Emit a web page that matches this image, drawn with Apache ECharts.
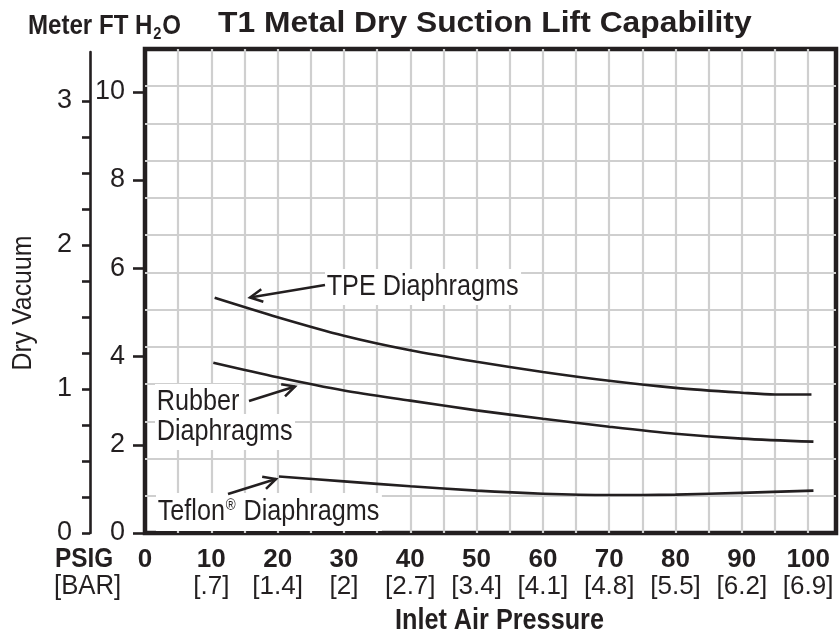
<!DOCTYPE html>
<html>
<head>
<meta charset="utf-8">
<script src="https://cdn.jsdelivr.net/npm/echarts@6/dist/echarts.min.js"></script>
<style>
html,body{margin:0;padding:0;background:#fff;}
#chart{width:840px;height:637px;}
</style>
</head>
<body>
<div id="chart"></div>
<script>
// ---- data ----
var tpePsi = [10.5, 20, 30, 40, 50, 60, 70, 80, 90, 95, 100.5];
var tpeFt  = [5.33, 4.89, 4.47, 4.14, 3.88, 3.65, 3.45, 3.29, 3.18, 3.14, 3.14];
var rubberPsi = [10.3, 20, 30, 40, 50, 60, 70, 80, 90, 100.8];
var rubberFt  = [3.86, 3.53, 3.23, 3.00, 2.78, 2.59, 2.41, 2.25, 2.14, 2.07];
var teflonPsi = [20.2, 30, 40, 50, 60, 70, 80, 90, 100.8];
var teflonFt  = [1.28, 1.17, 1.06, 0.96, 0.89, 0.86, 0.87, 0.91, 0.96];
var psigTicks = [0, 10, 20, 30, 40, 50, 60, 70, 80, 90, 100];
var barTicks  = ['', '[.7]', '[1.4]', '[2]', '[2.7]', '[3.4]', '[4.1]', '[4.8]', '[5.5]', '[6.2]', '[6.9]'];
var ftTicks = [0, 2, 4, 6, 8, 10];
var meterLabelTicks = [0, 1, 2, 3];
var meterMinorTicks = [0, 0.25, 0.5, 0.75, 1, 1.25, 1.5, 1.75, 2, 2.25, 2.5, 2.75, 3];

var SANS = '"Liberation Sans", Arial, Helvetica, sans-serif';
var INK = '#231f20';

function zip(xs, ys) { return xs.map(function (x, i) { return [x, ys[i]]; }); }

function arrow(tail, tip) {
  var dx = tail[0] - tip[0], dy = tail[1] - tip[1];
  var len = Math.sqrt(dx * dx + dy * dy);
  var ux = dx / len, uy = dy / len;
  var a = 27 * Math.PI / 180, L = 14;
  function rot(s) {
    var c = Math.cos(s * a), sn = Math.sin(s * a);
    return [tip[0] + L * (ux * c - uy * sn), tip[1] + L * (ux * sn + uy * c)];
  }
  return [
    { type: 'line', z: 20, shape: { x1: tail[0], y1: tail[1], x2: tip[0], y2: tip[1] }, style: { stroke: INK, lineWidth: 2.5 } },
    { type: 'polyline', z: 20, shape: { points: [rot(1), tip, rot(-1)] }, style: { stroke: INK, lineWidth: 2.5, fill: null } }
  ];
}

function txt(x, y, text, size, scaleX, extra) {
  var st = { x: 0, y: 0, text: text, fill: INK, fontFamily: SANS, fontSize: size, align: 'left', verticalAlign: 'middle' };
  if (extra) for (var k in extra) st[k] = extra[k];
  return { type: 'text', z: 15, x: x, y: y, scaleX: scaleX, style: st };
}

function label(x, y, text, extra) {
  var e = { backgroundColor: '#fff', padding: [3, 3, 3, 2] };
  if (extra) for (var k in extra) e[k] = extra[k];
  return txt(x, y, text, 30, 0.84, e);
}

var chart = echarts.init(document.getElementById('chart'), null, { renderer: 'canvas' });

var lineStyle = { color: INK, width: 2.6 };

var graphics = [
  txt(28, 24, '{m|Meter FT H}{sub|2}{m|O}', 28, 0.86, { fontWeight: 'bold',
      rich: {
        m: { fontFamily: SANS, fontWeight: 'bold', fontSize: 28, fill: INK, lineHeight: 32, verticalAlign: 'bottom' },
        sub: { fontFamily: SANS, fontWeight: 'bold', fontSize: 17, fill: INK, lineHeight: 17, verticalAlign: 'bottom', padding: [0, 1, -3, 1] }
      } }),
  txt(218, 24, 'T1 Metal Dry Suction Lift Capability', 30, 1.06, { fontWeight: 'bold' }),
  { type: 'text', z: 10, rotation: Math.PI / 2, x: 24, y: 303, scaleX: 0.92,
    style: { x: 0, y: 0, text: 'Dry Vacuum', fill: INK, fontFamily: SANS, fontSize: 27, align: 'center', verticalAlign: 'middle' } },
  txt(55, 559, 'PSIG', 28, 0.87, { fontWeight: 'bold' }),
  txt(54, 586, '[BAR]', 28, 0.92),
  txt(395, 621, 'Inlet Air Pressure', 29, 0.87, { fontWeight: 'bold' }),
  label(325, 287, 'TPE Diaphragms'),
  label(155, 402, 'Rubber'),
  label(155, 432, 'Diaphragms'),
  label(156, 512, '{t|Teflon}{sup|®}{t| Diaphragms}', { rich: {
      t: { fontFamily: SANS, fontSize: 30, fill: INK, lineHeight: 32, verticalAlign: 'middle' },
      sup: { fontFamily: SANS, fontSize: 16, fill: INK, lineHeight: 32, verticalAlign: 'top', padding: [2, 1, 0, 1] } } })
].concat(arrow([325, 285], [250, 297.5]))
 .concat(arrow([249, 401], [295, 386.5]))
 .concat(arrow([228, 494], [276, 479]));

var option = {
  animation: false,
  backgroundColor: '#fff',
  textStyle: { fontFamily: SANS },
  grid: [
    { left: 145, right: 4, top: 49, bottom: 104, show: true, borderColor: INK, borderWidth: 4.5, backgroundColor: '#fff', z: 0 },
    { left: 90, width: 1, top: 52, bottom: 104, show: false }
  ],
  xAxis: [
    { type: 'value', gridIndex: 0, min: 0, max: 104.2, interval: 5,
      axisLine: { show: false }, axisTick: { show: false },
      splitLine: { show: true, showMinLine: false, showMaxLine: false, lineStyle: { color: '#cfcfcf', width: 2.2 } },
      axisLabel: {
        customValues: psigTicks, margin: 13, interval: 0,
        formatter: function (v) {
          var i = psigTicks.indexOf(v);
          if (i < 0) return '';
          return barTicks[i] ? '{b|' + v + '}\n{s|' + barTicks[i] + '}' : '{b|' + v + '}';
        },
        rich: {
          b: { fontFamily: SANS, fontWeight: 'bold', fontSize: 26, color: INK, lineHeight: 27 },
          s: { fontFamily: SANS, fontSize: 26, color: INK, lineHeight: 27 }
        }
      } },
    { type: 'value', gridIndex: 1, show: false, min: 0, max: 1 }
  ],
  yAxis: [
    { type: 'value', gridIndex: 0, min: 0, max: 10.97,
      axisLine: { show: false },
      axisTick: { show: true, customValues: ftTicks, length: 12, lineStyle: { color: INK, width: 2.6 } },
      axisLabel: { customValues: ftTicks, margin: 20, fontFamily: SANS, fontSize: 27, color: INK },
      splitLine: { show: false } },
    { type: 'value', gridIndex: 0, min: 0, max: 13, interval: 1,
      axisLine: { show: false }, axisTick: { show: false }, axisLabel: { show: false },
      splitLine: { show: true, showMinLine: false, showMaxLine: false, lineStyle: { color: '#cfcfcf', width: 2.2 } } },
    { type: 'value', gridIndex: 1, min: 0, max: 3.34, position: 'left',
      axisLine: { show: true, lineStyle: { color: INK, width: 2.6 } },
      axisTick: { show: true, customValues: meterMinorTicks, length: 8, lineStyle: { color: INK, width: 2.6 } },
      axisLabel: { customValues: meterLabelTicks, margin: 18, fontFamily: SANS, fontSize: 27, color: INK },
      splitLine: { show: false } }
  ],
  series: [
    { name: 'TPE Diaphragms', type: 'line', xAxisIndex: 0, yAxisIndex: 0, data: zip(tpePsi, tpeFt), smooth: 0.3, showSymbol: false, lineStyle: lineStyle, z: 5 },
    { name: 'Rubber Diaphragms', type: 'line', xAxisIndex: 0, yAxisIndex: 0, data: zip(rubberPsi, rubberFt), smooth: 0.3, showSymbol: false, lineStyle: lineStyle, z: 5 },
    { name: 'Teflon Diaphragms', type: 'line', xAxisIndex: 0, yAxisIndex: 0, data: zip(teflonPsi, teflonFt), smooth: 0.3, showSymbol: false, lineStyle: lineStyle, z: 5 }
  ],
  graphic: graphics
};
chart.setOption(option);
</script>
</body>
</html>
